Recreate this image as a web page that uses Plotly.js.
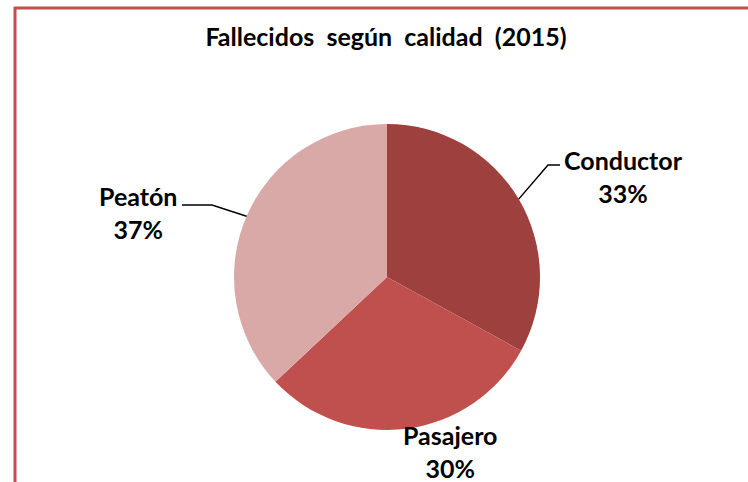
<!DOCTYPE html>
<html><head><meta charset="utf-8">
<script src="https://cdn.plot.ly/plotly-3.0.1.min.js"></script>
<style>html,body{margin:0;padding:0;background:#fff}#chart{width:748px;height:482px}</style>
</head><body><div id="chart"></div>
<script>
const categories = ["Conductor", "Pasajero", "Peatón"];
const values = [33, 30, 37];
const colors = ["#9D403E", "#C0504D", "#D9A9A8"];
const titleWords = ["Fallecidos", "según", "calidad", "(2015)"];

const W = 748, H = 482;
const cx = 387, cy = 277, R = 153;
const FONT = "Lato, 'Open Sans', sans-serif";

const total = values.reduce((a, b) => a + b, 0);
const pct = values.map(v => Math.round(v / total * 100) + "%");
let acc = 0;
const mid = values.map(v => { const m = (acc + v / 2) / total * 2 * Math.PI; acc += v; return m; });
const edge = mid.map(a => [cx + R * Math.sin(a), cy - R * Math.cos(a)]);

const px = x => x / W, py = y => 1 - y / H;

const labelPos = [[623, 176], [450, 451], [138, 212]];
const leaders = [
  [[edge[0][0], edge[0][1]], [548, 165], [560, 165]],
  null,
  [[edge[2][0], edge[2][1]], [212, 205], [182, 205]]
];

const shapes = [
  {type: "line", xref: "paper", yref: "paper", x0: px(14), x1: px(748), y0: py(8), y1: py(8), line: {color: "#C0504D", width: 3}},
  {type: "line", xref: "paper", yref: "paper", x0: px(15), x1: px(15), y0: py(7), y1: py(482), line: {color: "#C0504D", width: 3}}
];
leaders.forEach(l => {
  if (!l) return;
  const d = l.map((p, i) => (i ? "L" : "M") + px(p[0]) + "," + py(p[1])).join(" ");
  shapes.push({type: "path", xref: "paper", yref: "paper", path: d, line: {color: "#000", width: 1.5}});
});

const annotations = categories.map((c, i) => ({
  xref: "paper", yref: "paper", x: px(labelPos[i][0]), y: py(labelPos[i][1]),
  xanchor: "center", yanchor: "middle", showarrow: false,
  text: "<b>" + c + "<br>" + pct[i] + "</b>",
  font: {family: FONT, size: 25, color: "#000"}, align: "center"
}));

const data = [{
  type: "pie", labels: categories, values: values, sort: false, direction: "clockwise", rotation: 0,
  marker: {colors: colors, line: {width: 0}}, textinfo: "none", hoverinfo: "label+percent",
  domain: {x: [(cx - R) / W, (cx + R) / W], y: [1 - (cy + R) / H, 1 - (cy - R) / H]}
}];

const layout = {
  width: W, height: H, margin: {l: 0, r: 0, t: 0, b: 0},
  paper_bgcolor: "#fff", showlegend: false,
  title: {text: "<b>" + titleWords.join("&nbsp; ") + "</b>", x: 0.516, xanchor: "center", y: 1 - 37 / H, yanchor: "middle",
          font: {family: FONT, size: 25, color: "#000"}},
  shapes: shapes, annotations: annotations
};
Plotly.newPlot("chart", data, layout, {displayModeBar: false, staticPlot: true});
</script></body></html>
